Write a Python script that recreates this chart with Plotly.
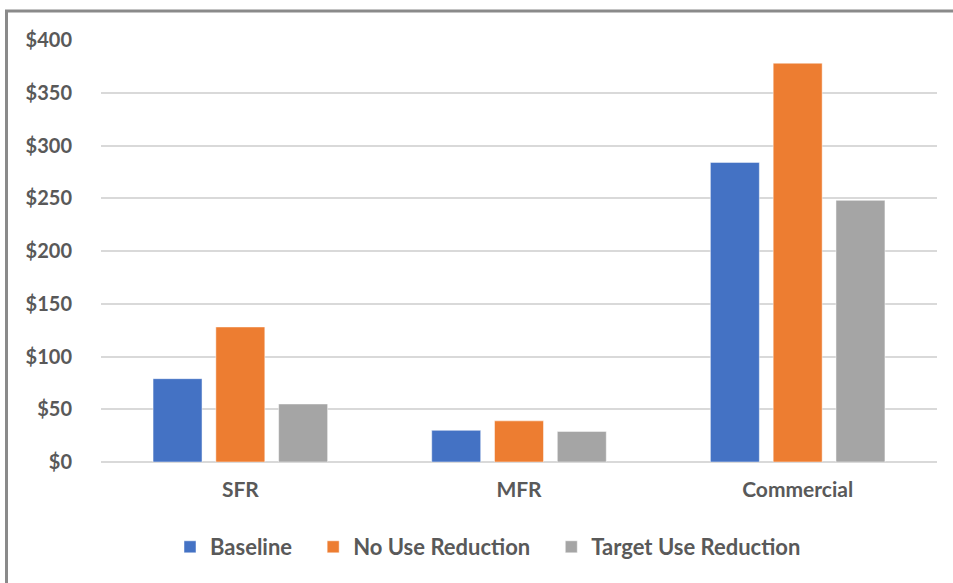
import plotly.graph_objects as go

categories = ["SFR", "MFR", "Commercial"]
baseline = [79, 30, 284]
no_use_reduction = [128, 39, 378]
target_use_reduction = [55, 29, 248]
series_names = ["Baseline", "No Use Reduction", "Target Use Reduction"]
y_ticks = [0, 50, 100, 150, 200, 250, 300, 350, 400]
y_tick_labels = ["$0", "$50", "$100", "$150", "$200", "$250", "$300", "$350", "$400"]

W, H = 953, 583
ML, MR, MT, MB = 101, 16, 40, 121
PW, PH = W - ML - MR, H - MT - MB

FONT = "Lato"
TXT = "#595959"
PAD = "\u00a0" * 3

fig = go.Figure()
series = [baseline, no_use_reduction, target_use_reduction]
colors = ["#4472C4", "#ED7D31", "#A5A5A5"]
for i, (name, vals, col) in enumerate(zip(series_names, series, colors)):
    label = name + (PAD if i < len(series_names) - 1 else "")
    fig.add_trace(go.Bar(x=categories, y=vals, name=label,
                         marker=dict(color=col, line=dict(color="rgba(255,255,255,0.6)", width=0.8))))

def px_x(p):
    return (p - ML) / PW

def px_y(p):
    return (H - MB - p) / PH

fig.add_shape(type="rect", xref="paper", yref="paper",
              x0=px_x(6.5), x1=px_x(960), y0=px_y(11), y1=px_y(600),
              line=dict(color="#8a8a8a", width=3), fillcolor="rgba(0,0,0,0)", layer="below")

fig.update_layout(
    width=W, height=H,
    margin=dict(l=ML, r=MR, t=MT, b=MB, autoexpand=False),
    paper_bgcolor="white", plot_bgcolor="white",
    barmode="group", bargap=0.324, bargroupgap=0.22,
    font=dict(family=FONT, size=18, color=TXT),
    showlegend=True,
    legend=dict(orientation="h", x=px_x(488), xanchor="center", y=px_y(547), yanchor="middle",
                font=dict(family=FONT, size=22, color=TXT, weight="bold"),
                itemclick=False, bgcolor="rgba(0,0,0,0)"),
    xaxis=dict(showgrid=False, showline=False, zeroline=False, ticks="",
               tickfont=dict(family=FONT, size=21, color=TXT, weight="bold"),
               ticklabelstandoff=13),
    yaxis=dict(range=[0, 400], tickvals=y_ticks, ticktext=y_tick_labels,
               showgrid=True, gridcolor="#d9d9d9", gridwidth=1.5,
               zeroline=True, zerolinecolor="#d9d9d9", zerolinewidth=1.5,
               showline=False, ticks="",
               tickfont=dict(family=FONT, size=20, color=TXT, weight="bold"),
               ticklabelstandoff=28),
)

fig.write_html("out.html", config={"displayModeBar": False},
               post_script="document.body.style.margin='0';")
